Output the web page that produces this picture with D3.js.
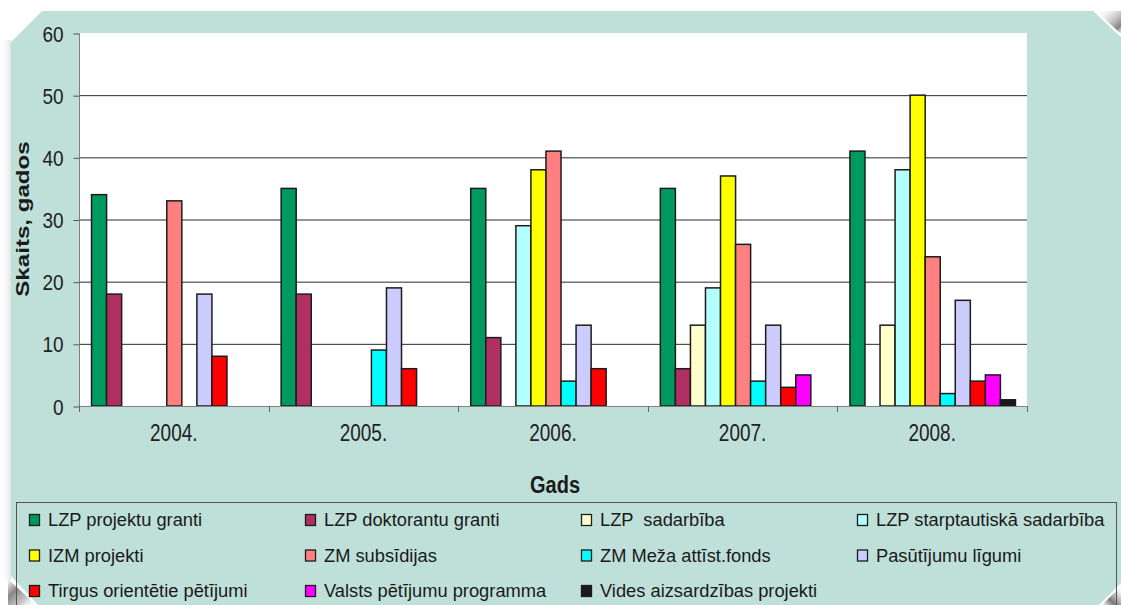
<!DOCTYPE html>
<html><head><meta charset="utf-8">
<script src="https://cdn.jsdelivr.net/npm/d3@7"></script>
<style>html,body{margin:0;padding:0;background:#fff;}svg{display:block;}</style>
</head><body>
<svg id="c" width="1121" height="605"></svg>
<script>
const years = ["2004.", "2005.", "2006.", "2007.", "2008."];
const seriesNames = ["LZP projektu granti", "LZP doktorantu granti", "LZP  sadarbība", "LZP starptautiskā sadarbība",
  "IZM projekti", "ZM subsīdijas", "ZM Meža attīst.fonds", "Pasūtījumu līgumi",
  "Tirgus orientētie pētījumi", "Valsts pētījumu programma", "Vides aizsardzības projekti"];
const seriesColors = ["#00995f", "#b03063", "#ffffcc", "#b3ffff", "#ffff00", "#ff8080", "#00ffff", "#ccccff", "#ff0000", "#ff00ff", "#1a1a1a"];
// values per series, one per year
const lzpGranti      = [34, 35, 35, 35, 41];
const lzpDoktoranti  = [18, 18, 11, 6, 0];
const lzpSadarbiba   = [0, 0, 0, 13, 13];
const lzpStarptaut   = [0, 0, 29, 19, 38];
const izmProjekti    = [0, 0, 38, 37, 50];
const zmSubsidijas   = [33, 0, 41, 26, 24];
const zmMeza         = [0, 9, 4, 4, 2];
const pasutijumi     = [18, 19, 13, 13, 17];
const tirgus         = [8, 6, 6, 3, 4];
const valsts         = [0, 0, 0, 5, 5];
const vides          = [0, 0, 0, 0, 1];
const seriesValues = [lzpGranti, lzpDoktoranti, lzpSadarbiba, lzpStarptaut, izmProjekti, zmSubsidijas, zmMeza, pasutijumi, tirgus, valsts, vides];
const yTicks = [0, 10, 20, 30, 40, 50, 60];
const yTitle = "Skaits, gados";
const xTitle = "Gads";

const svg = d3.select("#c");
const font = "'Liberation Sans', Arial, sans-serif";
const mint = "#bfe0d9";

// background panel with cut corners
const defs = svg.append("defs");
function grad(id, x1, y1, x2, y2, stops) {
  const g = defs.append("linearGradient").attr("id", id).attr("x1", x1).attr("y1", y1).attr("x2", x2).attr("y2", y2);
  stops.forEach(s => g.append("stop").attr("offset", s[0]).attr("stop-color", s[1]).attr("stop-opacity", s[2]));
}
grad("gTR", 0, 0, 1, 1, [[0, "#fff", 0], [0.55, "#9a9a9a", 0.6], [0.8, "#777", 0.9], [1, "#fff", 1]]);
grad("gBL", 0, 0, 1, 1, [[0, "#fff", 1], [0.35, "#888", 1], [0.7, "#bbb", 0.8], [1, "#fff", 0]]);
grad("gBR", 1, 0, 0, 1, [[0, "#fff", 0], [0.35, "#bbb", 0.8], [0.65, "#777", 1], [1, "#fff", 1]]);
grad("gL", 0, 0, 1, 0, [[0, "#fff", 0], [1, "#e4e4e4", 1]]);

svg.append("rect").attr("x", 0).attr("y", 40).attr("width", 11).attr("height", 540).attr("fill", "url(#gL)");
svg.append("path").attr("d", "M11,42 L42,11 L1093,11 L1121,37 L1121,583 L1099,605 L38,605 L11,576 Z").attr("fill", mint);
// page curl shadows
svg.append("path").attr("d", "M1096,11 L1121,11 L1121,34 Z").attr("fill", "url(#gTR)");
svg.append("path").attr("d", "M8,579 L36,605 L8,605 Z").attr("fill", "url(#gBL)");
svg.append("path").attr("d", "M1121,586 L1121,605 L1102,605 Z").attr("fill", "url(#gBR)");

// plot area
const pl = 79, pr = 1027, pt = 33, pb = 406;
svg.append("rect").attr("x", pl).attr("y", pt).attr("width", pr - pl).attr("height", pb - pt).attr("fill", "#fff");

const x0 = d3.scaleBand().domain(years).range([pl, pr]).padding(0);
const x1 = d3.scaleBand().domain(d3.range(seriesNames.length)).range([0, x0.bandwidth()]).paddingInner(0).paddingOuter(0.8);
const y = d3.scaleLinear().domain([0, 60]).range([pb, pt]);

// gridlines
svg.append("g").selectAll("line").data(yTicks.filter(t => t > 0 && t < 60)).join("line")
  .attr("x1", pl).attr("x2", pr).attr("y1", d => y(d) + 0.5).attr("y2", d => y(d) + 0.5)
  .attr("stroke", "#2a2a2a").attr("stroke-width", 1);

// y axis
const yAxis = svg.append("g").attr("transform", `translate(${pl + 0.5},0.5)`)
  .call(d3.axisLeft(y).tickValues(yTicks).tickSize(6).tickPadding(10).tickFormat(d3.format("d")));
yAxis.select(".domain").attr("stroke", "#808080").attr("d", `M0,${pt}V${pb}`);
yAxis.selectAll(".tick line").attr("stroke", "#555");
yAxis.selectAll(".tick text").attr("font-family", font).attr("font-size", 19).attr("fill", "#222")
  .attr("dy", null).attr("y", 0)
  .attr("transform", "scale(1,1.18)").attr("dominant-baseline", "central")
  .each(function(d) { d3.select(this).attr("y", 0); });
// adjust scaled text to stay at its tick
yAxis.selectAll(".tick text").attr("transform", null).attr("dominant-baseline", null).attr("y", 7.5)
  .style("transform", "scaleY(1.18)").style("transform-origin", "0px 0px").attr("y", 6.4);

// bars
const groups = svg.append("g").selectAll("g").data(years).join("g")
  .attr("transform", d => `translate(${x0(d)},0)`);
groups.selectAll("rect").data((yr, i) => seriesValues.map((vals, s) => ({ s, v: vals[i] })).filter(d => d.v > 0)).join("rect")
  .attr("x", d => x1(d.s) + 0.5).attr("y", d => y(d.v))
  .attr("width", x1.bandwidth()).attr("height", d => y(0) - y(d.v))
  .attr("fill", d => seriesColors[d.s]).attr("stroke", "#1c1c1c").attr("stroke-width", 1.5);

// x axis
const xAxis = svg.append("g").attr("transform", `translate(0,${pb + 0.5})`)
  .call(d3.axisBottom(x0).tickSize(0).tickPadding(0));
xAxis.select(".domain").attr("stroke", "#808080").attr("d", `M${pl},0H${pr}`);
xAxis.selectAll(".tick text").attr("font-family", font).attr("font-size", 19).attr("fill", "#222")
  .attr("dy", null).attr("y", 0).style("transform", "translateY(34.5px) scaleY(1.27)").style("transform-origin", "0px 0px");
const bounds = years.map(d => x0(d)).concat([x0(years[years.length - 1]) + x0.bandwidth()]);
svg.append("g").selectAll("line").data(bounds).join("line")
  .attr("x1", d => Math.round(d) + 0.5).attr("x2", d => Math.round(d) + 0.5)
  .attr("y1", pb).attr("y2", pb + 6).attr("stroke", "#666");

// titles
svg.append("text").text(xTitle).attr("font-family", font).attr("font-weight", "bold").attr("font-size", 20)
  .attr("text-anchor", "middle").attr("fill", "#1a1a1a")
  .attr("transform", "translate(555,493) scale(1,1.22)");
svg.append("text").text(yTitle).attr("font-family", font).attr("font-weight", "bold").attr("font-size", 19)
  .attr("text-anchor", "middle").attr("fill", "#1a1a1a")
  .attr("transform", "translate(29,219) rotate(-90) scale(1.27,1)");

// legend
svg.append("rect").attr("x", 16.5).attr("y", 502.5).attr("width", 1100).attr("height", 110)
  .attr("fill", "none").attr("stroke", "#555").attr("stroke-width", 1);
const legX = d3.scalePoint().domain([0, 1, 2, 3]).range([29, 857]);
const legY = d3.scalePoint().domain([0, 1, 2]).range([526, 597]);
const leg = svg.append("g").selectAll("g").data(seriesNames).join("g")
  .attr("transform", (d, i) => `translate(${legX(i % 4)},${legY(Math.floor(i / 4))})`);
leg.append("rect").attr("x", 0.5).attr("y", -11.5).attr("width", 10).attr("height", 11)
  .attr("fill", (d, i) => seriesColors[i]).attr("stroke", "#1c1c1c").attr("stroke-width", 1.3);
leg.append("text").text(d => d).attr("x", 19).attr("y", 0).attr("font-family", font).attr("font-size", 18.3)
  .attr("fill", "#1a1a1a").style("white-space", "pre").attr("xml:space", "preserve");
</script>
</body></html>
